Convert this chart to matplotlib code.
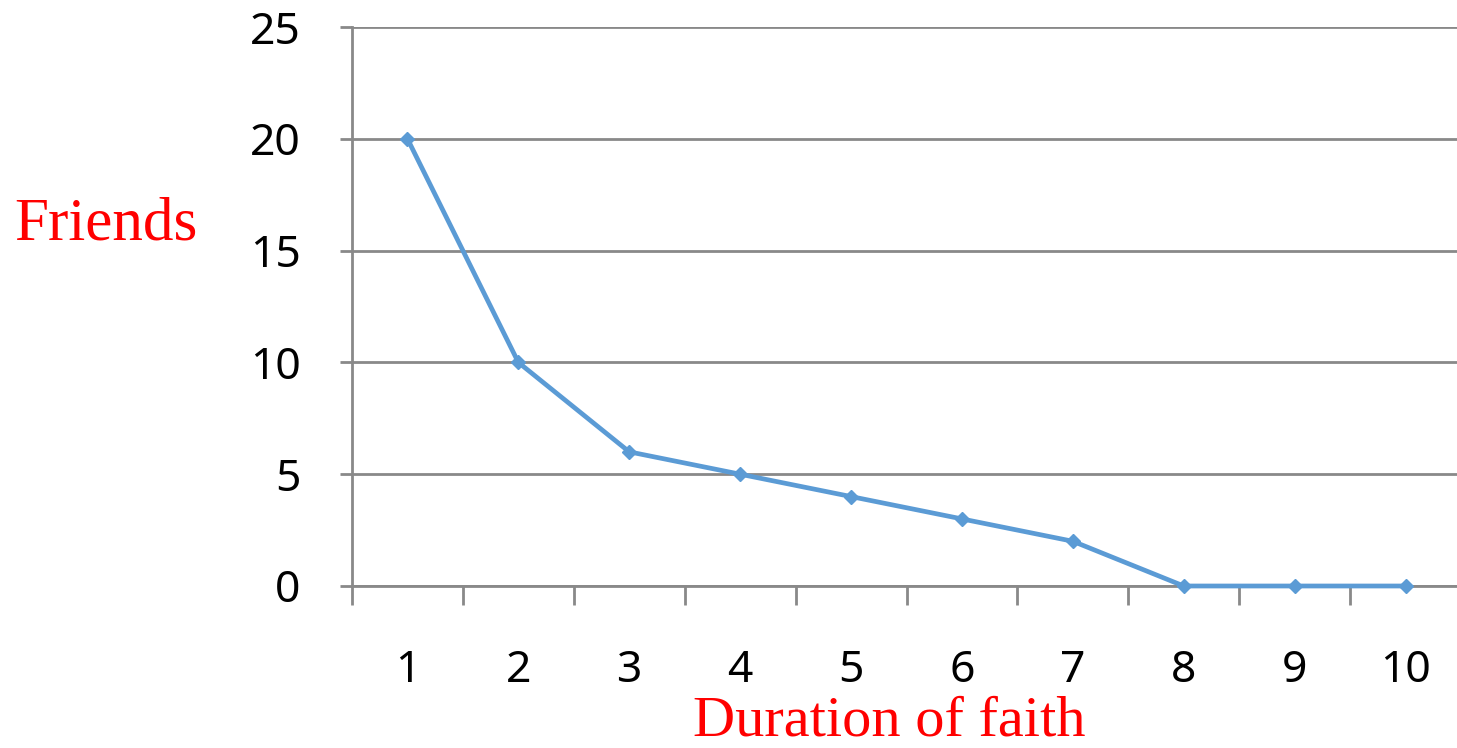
import matplotlib.pyplot as plt
from matplotlib.ticker import FixedLocator

years = [1, 2, 3, 4, 5, 6, 7, 8, 9, 10]
friends = [20, 10, 6, 5, 4, 3, 2, 0, 0, 0]
y_ticks = [0, 5, 10, 15, 20, 25]

grey = '#898989'

fig = plt.figure(figsize=(14.57, 7.48), dpi=100)
ax = fig.add_axes([352 / 1457, 162 / 748, 1109 / 1457, 559 / 748])

ax.plot(years, friends, color='#5B9BD5', linewidth=3.4, marker='D',
        markersize=7.5, zorder=3, clip_on=False)

ax.set_xlim(0.5, 10.5)
ax.set_ylim(0, 25)
ax.set_yticks(y_ticks)
ax.set_xticks(years)
ax.xaxis.set_minor_locator(FixedLocator([x + 0.5 for x in range(0, 10)]))

ax.grid(axis='y', color=grey, linewidth=2)
ax.set_axisbelow(True)
for side in ['top', 'right']:
    ax.spines[side].set_visible(False)
for side in ['left', 'bottom']:
    ax.spines[side].set_color(grey)
    ax.spines[side].set_linewidth(2)

ax.tick_params(axis='x', which='major', length=0, pad=45, labelsize=32)
ax.tick_params(axis='x', which='minor', length=14, width=2, color=grey)
ax.tick_params(axis='y', length=9, width=2, color=grey, pad=28, labelsize=32)
for lab in ax.get_xticklabels() + ax.get_yticklabels():
    lab.set_family('Noto Sans')

fig.text(106 / 1457, 1 - 225 / 748, 'Friends', color='red', fontsize=44,
         family='Liberation Serif', ha='center', va='center')
fig.text(889 / 1457, 1 - 722 / 748, 'Duration of faith', color='red', fontsize=42,
         family='Liberation Serif', ha='center', va='center')

fig.savefig('out.png', dpi=100)
